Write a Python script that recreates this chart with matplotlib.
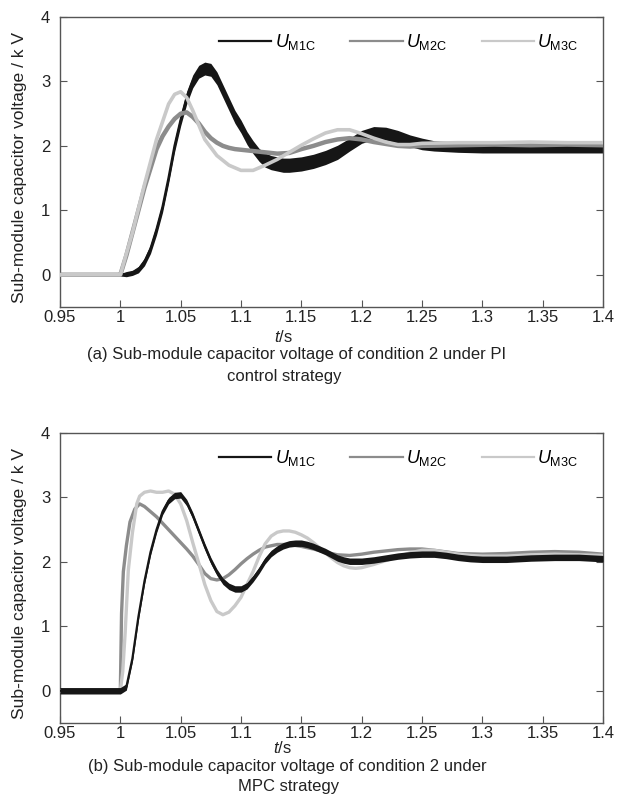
import matplotlib

matplotlib.use("Agg")
import matplotlib.pyplot as plt
import numpy as np
from matplotlib.lines import Line2D

plt.rcParams["font.family"] = ["Liberation Sans", "DejaVu Sans"]
plt.rcParams["mathtext.fontset"] = "custom"
plt.rcParams["mathtext.rm"] = "Liberation Sans"
plt.rcParams["mathtext.it"] = "Liberation Sans:italic"

# ---- (a) PI control: sub-module capacitor voltages (kV) ----
PI_T_M1C = [0.95, 1.0, 1.005, 1.01, 1.015, 1.02, 1.025, 1.03, 1.035, 1.04,
            1.045, 1.05, 1.055, 1.06, 1.065, 1.07, 1.075, 1.08, 1.085, 1.09,
            1.095, 1.1, 1.105, 1.11, 1.115, 1.12, 1.125, 1.13, 1.135, 1.14,
            1.15, 1.16, 1.17, 1.18, 1.19, 1.2, 1.21, 1.22, 1.23, 1.24,
            1.25, 1.26, 1.28, 1.3, 1.32, 1.34, 1.36, 1.38, 1.4]
PI_U_M1C = [0, 0, 0.01, 0.03, 0.08, 0.2, 0.4, 0.7, 1.05, 1.5,
            2.0, 2.4, 2.75, 3.0, 3.15, 3.2, 3.18, 3.05, 2.85, 2.65,
            2.45, 2.3, 2.12, 1.98, 1.86, 1.78, 1.74, 1.72, 1.7, 1.7,
            1.72, 1.76, 1.82, 1.9, 2.02, 2.14, 2.2, 2.19, 2.14, 2.08,
            2.03, 2.0, 1.98, 1.97, 1.97, 1.97, 1.97, 1.97, 1.97]
# half-width of the switching ripple band on U_M1C
PI_R_M1C = [0.02, 0.02, 0.04, 0.04, 0.05, 0.06, 0.07, 0.08, 0.08, 0.08,
            0.09, 0.09, 0.1, 0.1, 0.1, 0.1, 0.1, 0.1, 0.1, 0.1,
            0.1, 0.1, 0.1, 0.1, 0.1, 0.11, 0.11, 0.11, 0.11, 0.11,
            0.11, 0.11, 0.11, 0.11, 0.1, 0.1, 0.1, 0.1, 0.1, 0.09,
            0.09, 0.08, 0.08, 0.08, 0.08, 0.08, 0.08, 0.08, 0.08]

PI_T_M2C = [0.95, 1.0, 1.005, 1.01, 1.015, 1.02, 1.025, 1.03, 1.035, 1.04,
            1.045, 1.05, 1.055, 1.06, 1.065, 1.07, 1.075, 1.08, 1.085, 1.09,
            1.095, 1.1, 1.11, 1.12, 1.13, 1.14, 1.15, 1.16, 1.17, 1.18,
            1.19, 1.2, 1.21, 1.22, 1.23, 1.24, 1.25, 1.28, 1.31, 1.34,
            1.37, 1.4]
PI_U_M2C = [0, 0, 0.3, 0.65, 1.0, 1.35, 1.65, 1.95, 2.15, 2.3,
            2.42, 2.5, 2.52, 2.45, 2.35, 2.22, 2.12, 2.05, 2.0, 1.97,
            1.95, 1.94, 1.92, 1.9, 1.88, 1.89, 1.95, 2.0, 2.06, 2.1,
            2.12, 2.1, 2.06, 2.03, 2.0, 1.99, 2.0, 2.01, 2.02, 2.01,
            2.02, 2.01]

PI_T_M3C = [0.95, 1.0, 1.01, 1.02, 1.03, 1.04, 1.045, 1.05, 1.055, 1.06,
            1.07, 1.08, 1.09, 1.1, 1.11, 1.12, 1.13, 1.14, 1.15, 1.16,
            1.17, 1.18, 1.19, 1.2, 1.21, 1.22, 1.23, 1.24, 1.25, 1.28,
            1.31, 1.34, 1.37, 1.4]
PI_U_M3C = [0, 0, 0.65, 1.4, 2.1, 2.65, 2.8, 2.84, 2.75, 2.55,
            2.1, 1.85, 1.7, 1.62, 1.62, 1.7, 1.79, 1.9, 2.01, 2.11,
            2.2, 2.25, 2.25, 2.19, 2.12, 2.06, 2.02, 2.02, 2.04, 2.05,
            2.05, 2.06, 2.05, 2.05]

# ---- (b) MPC: sub-module capacitor voltages (kV) ----
MPC_T_M1C = [0.95, 1.0, 1.005, 1.01, 1.015, 1.02, 1.025, 1.03, 1.035, 1.04,
             1.045, 1.05, 1.055, 1.06, 1.065, 1.07, 1.075, 1.08, 1.085, 1.09,
             1.095, 1.1, 1.105, 1.11, 1.115, 1.12, 1.125, 1.13, 1.135, 1.14,
             1.145, 1.15, 1.155, 1.16, 1.165, 1.17, 1.175, 1.18, 1.185, 1.19,
             1.2, 1.21, 1.22, 1.23, 1.24, 1.25, 1.26, 1.27, 1.28, 1.29,
             1.3, 1.32, 1.34, 1.36, 1.38, 1.4]
MPC_U_M1C = [0, 0, 0.06, 0.5, 1.15, 1.7, 2.15, 2.5, 2.78, 2.95,
             3.03, 3.04, 2.92, 2.72, 2.48, 2.24, 2.02, 1.84, 1.7, 1.62,
             1.58, 1.58, 1.63, 1.74, 1.87, 2.02, 2.13, 2.2, 2.25, 2.28,
             2.29, 2.29, 2.27, 2.24, 2.2, 2.16, 2.11, 2.06, 2.03, 2.01,
             2.01, 2.03, 2.06, 2.09, 2.11, 2.12, 2.12, 2.1, 2.07, 2.05,
             2.04, 2.04, 2.06, 2.07, 2.07, 2.05]
MPC_R_M1C = 0.05

MPC_T_M2C = [0.95, 1.0, 1.001, 1.0025, 1.005, 1.008, 1.012, 1.016, 1.02, 1.025,
             1.03, 1.035, 1.04, 1.045, 1.05, 1.055, 1.06, 1.065, 1.07, 1.075,
             1.08, 1.085, 1.09, 1.095, 1.1, 1.105, 1.11, 1.115, 1.12, 1.13,
             1.14, 1.15, 1.16, 1.17, 1.18, 1.19, 1.2, 1.21, 1.22, 1.23,
             1.24, 1.25, 1.26, 1.28, 1.3, 1.32, 1.34, 1.36, 1.38, 1.4]
MPC_U_M2C = [0, 0, 1.2, 1.85, 2.25, 2.62, 2.82, 2.9, 2.86, 2.78,
             2.7, 2.6, 2.5, 2.4, 2.3, 2.2, 2.09, 1.96, 1.82, 1.74,
             1.72, 1.74, 1.8, 1.88, 1.97, 2.05, 2.12, 2.18, 2.23, 2.27,
             2.27, 2.24, 2.2, 2.15, 2.11, 2.1, 2.12, 2.15, 2.17, 2.19,
             2.2, 2.2, 2.18, 2.13, 2.12, 2.13, 2.15, 2.16, 2.15, 2.12]

MPC_T_M3C = [0.95, 1.0, 1.002, 1.004, 1.0066, 1.01, 1.0136, 1.016, 1.02, 1.025,
             1.03, 1.035, 1.04, 1.045, 1.05, 1.055, 1.06, 1.065, 1.07, 1.075,
             1.08, 1.085, 1.09, 1.095, 1.1, 1.105, 1.11, 1.115, 1.12, 1.125,
             1.13, 1.135, 1.14, 1.145, 1.15, 1.155, 1.16, 1.165, 1.17, 1.175,
             1.18, 1.185, 1.19, 1.195, 1.2, 1.21, 1.22, 1.23, 1.24, 1.25,
             1.26, 1.27, 1.28, 1.29, 1.3, 1.32, 1.34, 1.36, 1.38, 1.4]
MPC_U_M3C = [0, 0, 0.3, 0.9, 1.87, 2.45, 2.9, 3.02, 3.08, 3.1,
             3.08, 3.08, 3.1, 3.05, 2.9, 2.64, 2.3, 1.98, 1.65, 1.4,
             1.23, 1.18, 1.22, 1.32, 1.45, 1.65, 1.85, 2.08, 2.28, 2.4,
             2.46, 2.48, 2.48, 2.46, 2.42, 2.37, 2.3, 2.22, 2.14, 2.06,
             1.99, 1.94, 1.91, 1.9, 1.91, 1.96, 2.02, 2.08, 2.14, 2.18,
             2.18, 2.15, 2.12, 2.1, 2.09, 2.09, 2.11, 2.12, 2.11, 2.1]

LABELS = [r"$U_{\mathrm{M1C}}$", r"$U_{\mathrm{M2C}}$", r"$U_{\mathrm{M3C}}$"]
XTICKS = [0.95, 1, 1.05, 1.1, 1.15, 1.2, 1.25, 1.3, 1.35, 1.4]
XTICK_LABELS = ["0.95", "1", "1.05", "1.1", "1.15", "1.2", "1.25", "1.3", "1.35", "1.4"]
YTICKS = [0, 1, 2, 3, 4]
YLABEL = "Sub-module capacitor voltage / k V"
CAPTIONS_A = ["(a) Sub-module capacitor voltage of condition 2 under PI", "control strategy"]
CAPTIONS_B = ["(b) Sub-module capacitor voltage of condition 2 under", "MPC strategy"]

C1 = "#161616"
C2 = "#8c8c8c"
C3 = "#c9c9c9"
SPINE = "#555555"
TEXT = "#222222"
FS = 12

W, H = 619, 810
fig = plt.figure(figsize=(W / 100, H / 100), dpi=100)


def px_axes(left, top, right, bottom):
    return fig.add_axes([left / W, 1 - bottom / H, (right - left) / W, (bottom - top) / H])


def style_axes(ax):
    ax.set_xlim(0.95, 1.4)
    ax.set_ylim(-0.5, 4)
    ax.set_xticks(XTICKS)
    ax.set_xticklabels(XTICK_LABELS)
    ax.set_yticks(YTICKS)
    ax.tick_params(direction="in", length=5, width=0.8, color=SPINE,
                   labelcolor=TEXT, labelsize=FS, right=True, top=False)
    ax.tick_params(axis="x", pad=2)
    ax.tick_params(axis="y", pad=7)
    for sp in ax.spines.values():
        sp.set_color(SPINE)
        sp.set_linewidth(1.0)
    ax.set_ylabel(YLABEL, fontsize=12.6, color=TEXT)
    ax.yaxis.set_label_coords(-0.06, 0.48)
    handles = [Line2D([], [], color=c, lw=1.6) for c in (C1, C2, C3)]
    ax.legend(handles, LABELS, loc="upper right", bbox_to_anchor=(0.975, 0.985),
              ncol=3, frameon=False, fontsize=13, handlelength=2.9,
              handletextpad=0.2, columnspacing=1.9, borderaxespad=0.2)


# (a) PI control
ax1 = px_axes(60, 17, 603, 307)
u1 = np.array(PI_U_M1C)
r1 = np.array(PI_R_M1C)
ax1.fill_between(PI_T_M1C, u1 - r1, u1 + r1, color=C1, lw=0, zorder=2)
ax1.plot(PI_T_M1C, PI_U_M1C, color=C1, lw=1.8, zorder=2)
ax1.plot(PI_T_M2C, PI_U_M2C, color=C2, lw=3.2, zorder=3, solid_joinstyle="round")
ax1.plot(PI_T_M3C, PI_U_M3C, color=C3, lw=2.6, zorder=4, solid_joinstyle="round")
style_axes(ax1)

# (b) MPC
ax2 = px_axes(60, 433, 603, 723)
ax2.plot(MPC_T_M2C, MPC_U_M2C, color=C2, lw=2.4, zorder=2, solid_joinstyle="round")
ax2.plot(MPC_T_M3C, MPC_U_M3C, color=C3, lw=2.4, zorder=3, solid_joinstyle="round")
u2 = np.array(MPC_U_M1C)
ax2.fill_between(MPC_T_M1C, u2 - MPC_R_M1C, u2 + MPC_R_M1C, color=C1, lw=0, zorder=4)
ax2.plot(MPC_T_M1C, MPC_U_M1C, color=C1, lw=1.6, zorder=4)
style_axes(ax2)

# axis titles and captions below each panel
fig.text(283 / W, 1 - 337 / H, r"$t$/s", ha="center", va="center", fontsize=FS, color=TEXT)
fig.text(297 / W, 1 - 355 / H, CAPTIONS_A[0], ha="center", va="center", fontsize=FS, color=TEXT)
fig.text(284 / W, 1 - 377 / H, CAPTIONS_A[1], ha="center", va="center", fontsize=FS, color=TEXT)
fig.text(282 / W, 1 - 748 / H, r"$t$/s", ha="center", va="center", fontsize=FS, color=TEXT)
fig.text(287 / W, 1 - 767 / H, CAPTIONS_B[0], ha="center", va="center", fontsize=FS, color=TEXT)
fig.text(289 / W, 1 - 786 / H, CAPTIONS_B[1], ha="center", va="center", fontsize=FS, color=TEXT)

fig.savefig("out.png", dpi=100)
